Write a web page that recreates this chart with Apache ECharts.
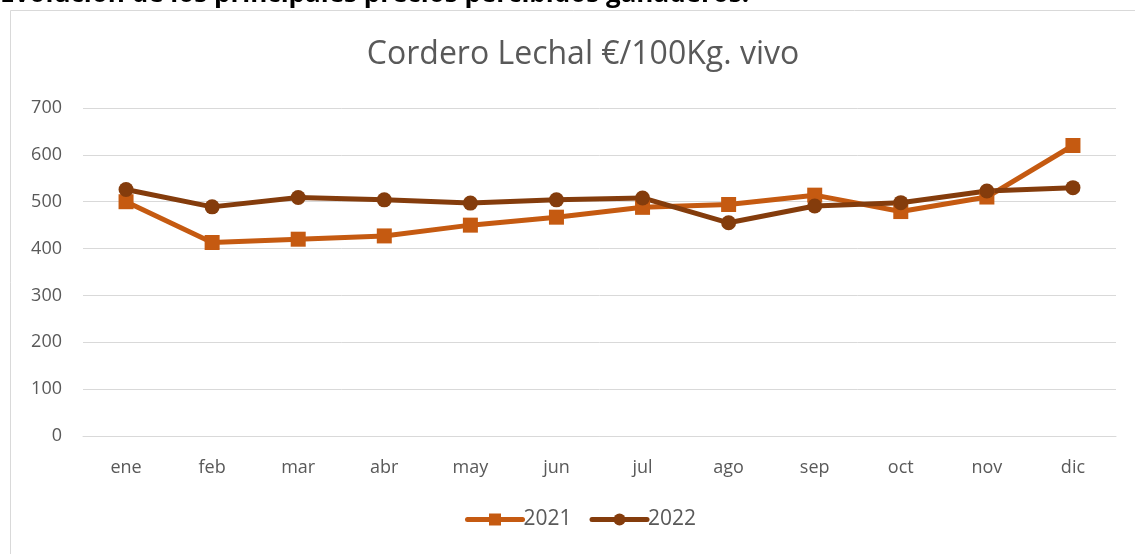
<!DOCTYPE html>
<html><head><meta charset="utf-8">
<script src="https://cdn.jsdelivr.net/npm/echarts@6/dist/echarts.min.js"></script>
<style>html,body{margin:0;padding:0;background:#fff}#c{width:1135px;height:554px}</style>
</head><body><div id="c"></div>
<script>
const categories = ['ene','feb','mar','abr','may','jun','jul','ago','sep','oct','nov','dic'];
const values2021 = [500, 413, 420, 427, 450, 467, 488, 494, 514, 479, 510, 620];
const values2022 = [526, 489, 509, 504, 497, 504, 508, 455, 491, 498, 523, 530];
const seriesNames = ['2021', '2022'];
const yTicks = [0, 100, 200, 300, 400, 500, 600, 700];

const font = '"Open Sans", sans-serif';
const chart = echarts.init(document.getElementById('c'));
chart.setOption({
  animation: false,
  backgroundColor: '#fff',
  title: {
    text: 'Cordero Lechal €/100Kg. vivo',
    left: 578, top: 34, textAlign: 'center',
    textStyle: { fontFamily: font, fontSize: 32, fontWeight: 'normal', color: '#595959' }
  },
  graphic: [
    { type: 'rect', shape: { x: 10.5, y: 10.5, width: 1140, height: 560 },
      style: { fill: 'none', stroke: '#D9D9D9', lineWidth: 1 }, silent: true },
    { type: 'text', x: 0, y: 8,
      style: { text: 'Evolución de los principales precios percibidos ganaderos.',
        font: 'bold 26px ' + font, fill: '#000', verticalAlign: 'bottom' } }
  ],
  legend: {
    data: seriesNames, bottom: 19, left: 460, itemGap: 18,
    itemWidth: 55, itemHeight: 15,
    lineStyle: { width: 5, cap: 'round' },
    textStyle: { fontFamily: font, fontSize: 21, color: '#595959', padding: [0,0,0,-4] }
  },
  grid: { left: 83, right: 19, top: 108, bottom: 118 },
  xAxis: {
    type: 'category', data: categories, boundaryGap: true,
    axisLine: { lineStyle: { color: '#D9D9D9', width: 1 } },
    axisTick: { show: false },
    axisLabel: { fontFamily: font, fontSize: 18, color: '#595959', margin: 23 }
  },
  yAxis: {
    type: 'value', min: yTicks[0], max: yTicks[yTicks.length-1], interval: 100,
    axisLine: { show: false }, axisTick: { show: false },
    splitLine: { lineStyle: { color: '#D9D9D9', width: 1 } },
    axisLabel: { fontFamily: font, fontSize: 18, color: '#595959', margin: 21 }
  },
  series: [
    { name: seriesNames[0], type: 'line', data: values2021,
      symbol: 'rect', symbolSize: 15,
      lineStyle: { color: '#C55A11', width: 5 },
      itemStyle: { color: '#C55A11' } },
    { name: seriesNames[1], type: 'line', data: values2022,
      symbol: 'circle', symbolSize: 15,
      lineStyle: { color: '#843C0C', width: 5 },
      itemStyle: { color: '#843C0C' } }
  ]
});
</script></body></html>
